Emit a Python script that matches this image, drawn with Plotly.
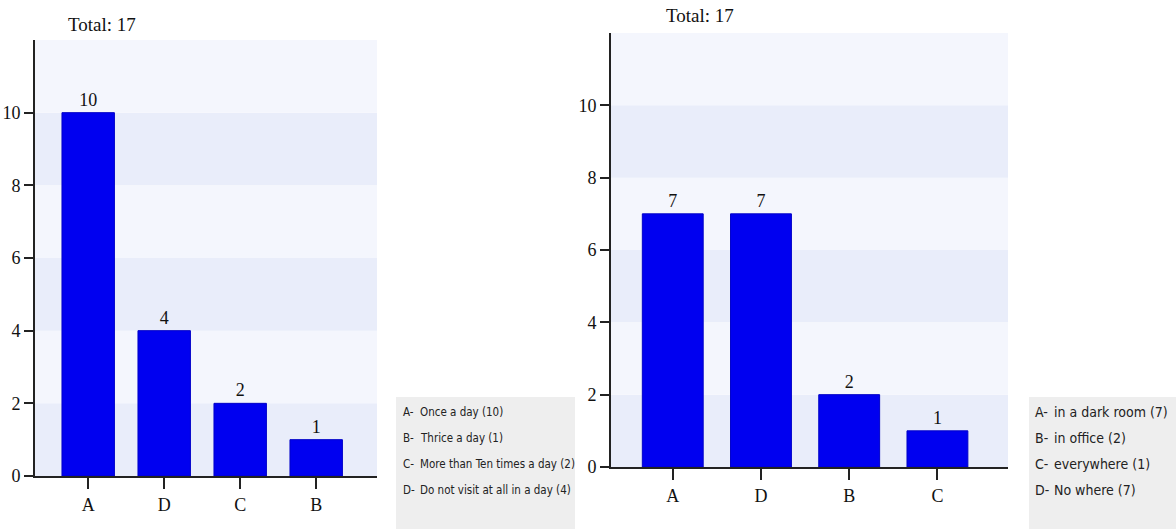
import plotly.graph_objects as go

# Left panel: visits per day
left_cats = ["A", "D", "C", "B"]
left_vals = [10, 4, 2, 1]
left_keys = ["A-", "B-", "C-", "D-"]
left_texts = [
    "Once a day (10)",
    "Thrice a day (1)",
    "More than Ten times a day (2)",
    "Do not visit at all in a day (4)",
]

# Right panel: where it is used
right_cats = ["A", "D", "B", "C"]
right_vals = [7, 7, 2, 1]
right_keys = ["A-", "B-", "C-", "D-"]
right_texts = [
    "in a dark room (7)",
    "in office (2)",
    "everywhere (1)",
    "No where (7)",
]

total_label = "Total: 17"
y_ticks = [0, 2, 4, 6, 8, 10]

W, H = 1176, 519          # drawing area used for placement


def px(x):
    return x / W


def py(y):
    return 1 - y / H


BAR = "#0000f0"
SERIF = "Liberation Serif, Times New Roman, serif"
SANS = "DejaVu Sans Condensed, DejaVu Sans, sans-serif"

fig = go.Figure()

panels = [
    dict(cats=left_cats, vals=left_vals, xa="x", ya="y",
         xdom=[px(35), px(377)], ydom=[py(476), py(40)]),
    dict(cats=right_cats, vals=right_vals, xa="x2", ya="y2",
         xdom=[px(611), px(1008)], ydom=[py(467), py(33)]),
]

for p in panels:
    fig.add_trace(go.Bar(
        x=p["cats"], y=p["vals"], xaxis=p["xa"], yaxis=p["ya"],
        marker=dict(color=BAR, line=dict(color="#0000c8", width=1)),
        width=0.69,
        text=[str(v) for v in p["vals"]], textposition="outside",
        textfont=dict(family=SERIF, size=18, color="#111"),
        cliponaxis=False, showlegend=False, hoverinfo="skip",
    ))

axis_common = dict(
    showline=True, linecolor="#222", linewidth=2, ticks="outside", ticklen=9,
    tickcolor="#222", tickwidth=1.5, showgrid=False, zeroline=False,
    tickfont=dict(family=SERIF, size=18, color="#111"),
)

layout = dict(
    width=1176, height=529, margin=dict(l=0, r=0, t=0, b=0),
    paper_bgcolor="white", plot_bgcolor="rgba(0,0,0,0)",
    showlegend=False,
)
for i, p in enumerate(panels):
    sfx = "" if i == 0 else "2"
    layout["xaxis" + sfx] = dict(axis_common, domain=p["xdom"], anchor="y" + sfx,
                                 range=[-0.7, 3.8], type="category", ticklen=11)
    layout["yaxis" + sfx] = dict(axis_common, domain=p["ydom"], anchor="x" + sfx,
                                 range=[0, 12], tickvals=y_ticks)
fig.update_layout(**layout)

# Alternating 2-unit background bands
shapes = []
for i, p in enumerate(panels):
    sfx = "" if i == 0 else "2"
    for lo in range(0, 12, 2):
        color = "#e9edfa" if (lo // 2) % 2 == 0 else "#f4f6fd"
        shapes.append(dict(type="rect", xref="x" + sfx + " domain", yref="y" + sfx,
                           x0=0, x1=1, y0=lo, y1=lo + 2, fillcolor=color,
                           line=dict(width=0), layer="below"))

# Legend boxes
shapes.append(dict(type="rect", xref="paper", yref="paper",
                   x0=px(396), x1=px(575), y0=-0.05, y1=py(397),
                   fillcolor="#eeeeee", line=dict(width=0), layer="below"))
shapes.append(dict(type="rect", xref="paper", yref="paper",
                   x0=px(1029), x1=1, y0=-0.05, y1=py(397),
                   fillcolor="#eeeeee", line=dict(width=0), layer="below"))
fig.update_layout(shapes=shapes)

annotations = [
    dict(text=total_label, xref="paper", yref="paper", x=px(102), y=py(25),
         xanchor="center", yanchor="middle", showarrow=False,
         font=dict(family=SERIF, size=19, color="#111")),
    dict(text=total_label, xref="paper", yref="paper", x=px(700), y=py(15),
         xanchor="center", yanchor="middle", showarrow=False,
         font=dict(family=SERIF, size=19, color="#111")),
]
row_y = [412, 438, 464, 490]
for key, txt, yy in zip(left_keys, left_texts, row_y):
    for t, x in ((key, 401), (txt, 418)):
        annotations.append(dict(text=t, xref="paper", yref="paper", x=px(x), y=py(yy),
                                xanchor="left", yanchor="middle", showarrow=False,
                                font=dict(family=SANS, size=11.5, color="#222")))
for key, txt, yy in zip(right_keys, right_texts, row_y):
    for t, x in ((key, 1033), (txt, 1052)):
        annotations.append(dict(text=t, xref="paper", yref="paper", x=px(x), y=py(yy),
                                xanchor="left", yanchor="middle", showarrow=False,
                                font=dict(family=SANS, size=14, color="#222")))
fig.update_layout(annotations=annotations)

fig.write_html("out.html")
